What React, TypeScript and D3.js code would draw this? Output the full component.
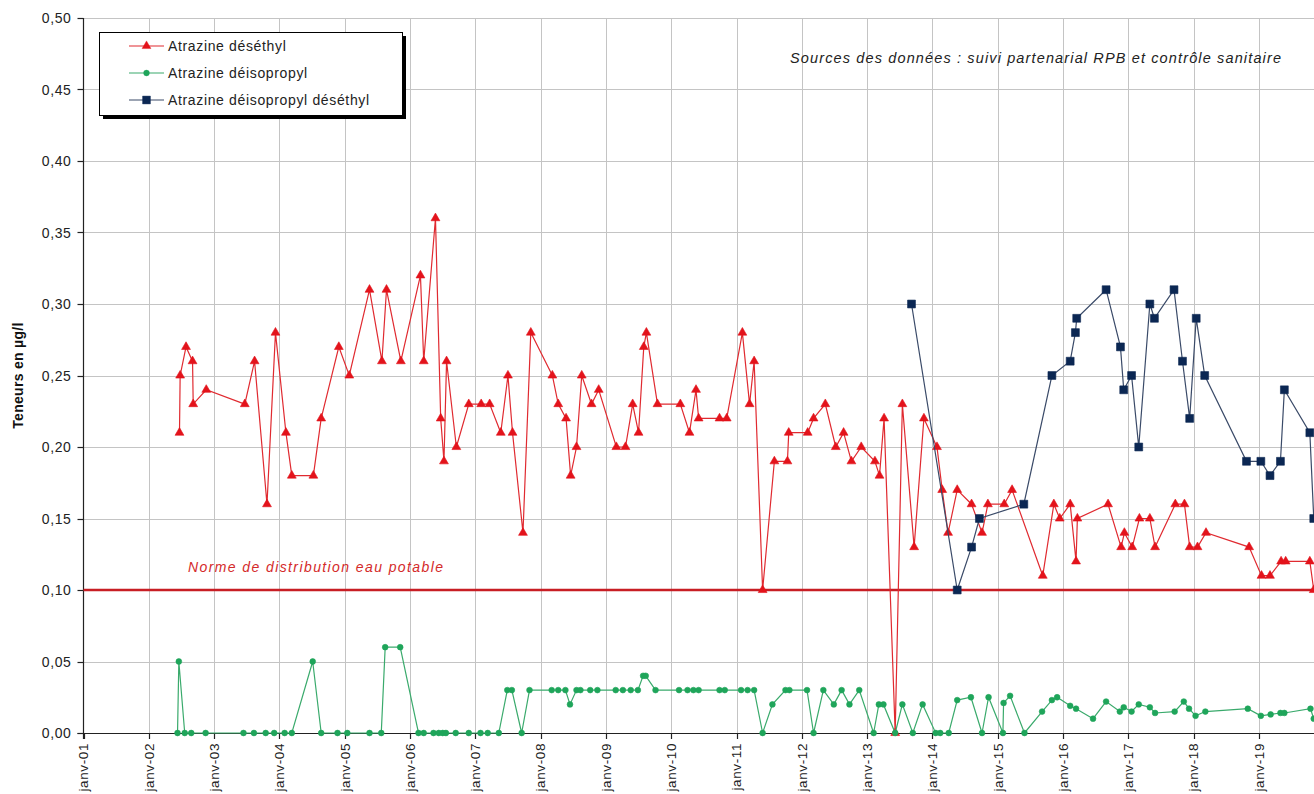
import React from "react";
import * as d3 from "d3";

// Sampling dates (decimal years) and concentrations (µg/l)
const deethyl: [number, number][] = [
  [2002.47, 0.21], [2002.48, 0.25], [2002.57, 0.27], [2002.67, 0.26], [2002.68, 0.23],
  [2002.88, 0.24], [2003.47, 0.23], [2003.62, 0.26], [2003.81, 0.16], [2003.94, 0.28],
  [2004.10, 0.21], [2004.19, 0.18], [2004.52, 0.18], [2004.64, 0.22], [2004.91, 0.27],
  [2005.07, 0.25], [2005.38, 0.31], [2005.57, 0.26], [2005.64, 0.31], [2005.86, 0.26],
  [2006.16, 0.32], [2006.21, 0.26], [2006.39, 0.36], [2006.47, 0.22], [2006.52, 0.19],
  [2006.56, 0.26], [2006.71, 0.20], [2006.90, 0.23], [2007.09, 0.23], [2007.22, 0.23],
  [2007.39, 0.21], [2007.50, 0.25], [2007.57, 0.21], [2007.73, 0.14], [2007.85, 0.28],
  [2008.18, 0.25], [2008.27, 0.23], [2008.39, 0.22], [2008.46, 0.18], [2008.55, 0.20],
  [2008.63, 0.25], [2008.78, 0.23], [2008.89, 0.24], [2009.16, 0.20], [2009.30, 0.20],
  [2009.41, 0.23], [2009.50, 0.21], [2009.58, 0.27], [2009.62, 0.28], [2009.79, 0.23],
  [2010.14, 0.23], [2010.28, 0.21], [2010.38, 0.24], [2010.42, 0.22], [2010.74, 0.22],
  [2010.85, 0.22], [2011.09, 0.28], [2011.20, 0.23], [2011.27, 0.26], [2011.40, 0.10],
  [2011.58, 0.19], [2011.78, 0.19], [2011.80, 0.21], [2012.09, 0.21], [2012.18, 0.22],
  [2012.36, 0.23], [2012.52, 0.20], [2012.64, 0.21], [2012.76, 0.19], [2012.91, 0.20],
  [2013.12, 0.19], [2013.19, 0.18], [2013.26, 0.22], [2013.43, 0.00], [2013.54, 0.23],
  [2013.72, 0.13], [2013.87, 0.22], [2014.07, 0.20], [2014.15, 0.17], [2014.24, 0.14],
  [2014.38, 0.17], [2014.60, 0.16], [2014.76, 0.14], [2014.85, 0.16], [2015.10, 0.16],
  [2015.22, 0.17], [2015.69, 0.11], [2015.86, 0.16], [2015.95, 0.15], [2016.11, 0.16],
  [2016.20, 0.12], [2016.22, 0.15], [2016.69, 0.16], [2016.89, 0.13], [2016.94, 0.14],
  [2017.06, 0.13], [2017.17, 0.15], [2017.33, 0.15], [2017.41, 0.13], [2017.72, 0.16],
  [2017.86, 0.16], [2017.94, 0.13], [2018.06, 0.13], [2018.19, 0.14], [2018.85, 0.13],
  [2019.04, 0.11], [2019.17, 0.11], [2019.34, 0.12], [2019.41, 0.12], [2019.78, 0.12],
  [2019.84, 0.10],
];

const deisopropyl: [number, number][] = [
  [2002.44, 0], [2002.46, 0.05], [2002.55, 0], [2002.65, 0], [2002.87, 0],
  [2003.45, 0], [2003.61, 0], [2003.79, 0], [2003.92, 0], [2004.08, 0],
  [2004.19, 0], [2004.51, 0.05], [2004.64, 0], [2004.89, 0], [2005.04, 0],
  [2005.38, 0], [2005.56, 0], [2005.62, 0.06], [2005.85, 0.06], [2006.13, 0],
  [2006.21, 0], [2006.36, 0], [2006.44, 0], [2006.50, 0], [2006.55, 0],
  [2006.70, 0], [2006.90, 0], [2007.08, 0], [2007.19, 0], [2007.36, 0],
  [2007.49, 0.03], [2007.56, 0.03], [2007.71, 0], [2007.83, 0.03], [2008.17, 0.03],
  [2008.27, 0.03], [2008.38, 0.03], [2008.45, 0.02], [2008.55, 0.03], [2008.61, 0.03],
  [2008.76, 0.03], [2008.87, 0.03], [2009.15, 0.03], [2009.26, 0.03], [2009.38, 0.03],
  [2009.49, 0.03], [2009.57, 0.04], [2009.61, 0.04], [2009.76, 0.03], [2010.12, 0.03],
  [2010.25, 0.03], [2010.34, 0.03], [2010.42, 0.03], [2010.74, 0.03], [2010.82, 0.03],
  [2011.07, 0.03], [2011.17, 0.03], [2011.27, 0.03], [2011.40, 0], [2011.55, 0.02],
  [2011.75, 0.03], [2011.81, 0.03], [2012.08, 0.03], [2012.18, 0], [2012.33, 0.03],
  [2012.49, 0.02], [2012.61, 0.03], [2012.73, 0.02], [2012.88, 0.03], [2013.10, 0],
  [2013.18, 0.02], [2013.25, 0.02], [2013.43, 0], [2013.54, 0.02], [2013.70, 0],
  [2013.85, 0.02], [2014.05, 0], [2014.12, 0], [2014.25, 0], [2014.38, 0.023],
  [2014.59, 0.025], [2014.76, 0], [2014.86, 0.025], [2015.08, 0], [2015.09, 0.021],
  [2015.19, 0.026], [2015.41, 0], [2015.68, 0.015], [2015.83, 0.023], [2015.91, 0.025],
  [2016.11, 0.019], [2016.20, 0.017], [2016.46, 0.010], [2016.66, 0.022], [2016.87, 0.015],
  [2016.93, 0.018], [2017.05, 0.015], [2017.16, 0.020], [2017.33, 0.018], [2017.41, 0.014],
  [2017.71, 0.015], [2017.85, 0.022], [2017.93, 0.017], [2018.03, 0.012], [2018.18, 0.015],
  [2018.83, 0.017], [2019.03, 0.012], [2019.18, 0.013], [2019.33, 0.014], [2019.39, 0.014],
  [2019.79, 0.017], [2019.84, 0.010],
];

const deisopropylDeethyl: [number, number][] = [
  [2013.68, 0.30], [2014.38, 0.10], [2014.60, 0.13], [2014.72, 0.15], [2015.40, 0.16],
  [2015.83, 0.25], [2016.11, 0.26], [2016.19, 0.28], [2016.21, 0.29], [2016.66, 0.31],
  [2016.88, 0.27], [2016.93, 0.24], [2017.05, 0.25], [2017.16, 0.20], [2017.33, 0.30],
  [2017.40, 0.29], [2017.70, 0.31], [2017.83, 0.26], [2017.94, 0.22], [2018.04, 0.29],
  [2018.17, 0.25], [2018.81, 0.19], [2019.03, 0.19], [2019.17, 0.18], [2019.33, 0.19],
  [2019.39, 0.24], [2019.78, 0.21], [2019.84, 0.15],
];

// January tick years shown along the time axis
const yearTicks = d3.range(2001, 2020);
const yTicks = d3.range(0, 0.5001, 0.05);
const normValue = 0.1;

const seriesNames = [
  "Atrazine déséthyl",
  "Atrazine déisopropyl",
  "Atrazine déisopropyl déséthyl",
];
const sourceNote = "Sources des données : suivi partenarial  RPB et contrôle sanitaire";
const normLabel = "Norme de distribution eau potable";
const yTitle = "Teneurs en µg/l";

const W = 1314;
const H = 794;
const left = 83.5;
const top = 18;
const bottom = 733;

const x = d3.scaleLinear().domain([2001, 2020]).range([left, left + 19 * 65.3]);
const y = d3.scaleLinear().domain([0, 0.5]).range([bottom, top]);

const fmtY = (v: number) => d3.format(".2f")(v).replace(".", ",");
const fmtX = (yr: number) => "janv-" + String(yr % 100).padStart(2, "0");

const line = d3
  .line<[number, number]>()
  .x((d) => x(d[0]))
  .y((d) => y(d[1]));

const triangle = d3.symbol(d3.symbolTriangle, 34)()!;
const circle = d3.symbol(d3.symbolCircle, 26)()!;
const square = d3.symbol(d3.symbolSquare, 62)()!;

const RED = "#e3131b";
const RED_LINE = "#e02a30";
const GREEN = "#1fa55a";
const GREEN_LINE = "#3aaa6c";
const NAVY = "#0b2753";
const NAVY_LINE = "#3a4a68";

const font = "'Liberation Sans', Arial, sans-serif";

const series = [
  { name: seriesNames[0], data: deethyl, stroke: RED_LINE, fill: RED, marker: triangle },
  { name: seriesNames[1], data: deisopropyl, stroke: GREEN_LINE, fill: GREEN, marker: circle },
  { name: seriesNames[2], data: deisopropylDeethyl, stroke: NAVY_LINE, fill: NAVY, marker: square },
];

export default function App() {
  const plotRight = x(2020);
  return (
    <svg
      width={W}
      height={H}
      style={{ position: "absolute", left: 0, top: 0, background: "#fff" }}
      fontFamily={font}
    >
      <rect width={W} height={H} fill="#fff" />

      {/* grid */}
      <g stroke="#c4c4c4" strokeWidth={1}>
        {yTicks.map((t) => (
          <line key={"h" + t} x1={left} x2={plotRight} y1={Math.round(y(t)) + 0.5} y2={Math.round(y(t)) + 0.5} />
        ))}
        {yearTicks.slice(1).map((t) => (
          <line key={"v" + t} x1={Math.round(x(t)) + 0.5} x2={Math.round(x(t)) + 0.5} y1={top} y2={bottom} />
        ))}
      </g>

      {/* axes */}
      <g stroke="#222" strokeWidth={1.2}>
        <line x1={left} x2={left} y1={top} y2={bottom + 6} />
        <line x1={left - 6} x2={plotRight} y1={bottom + 0.5} y2={bottom + 0.5} />
        {yTicks.map((t) => (
          <line key={"yt" + t} x1={left - 6} x2={left} y1={Math.round(y(t)) + 0.5} y2={Math.round(y(t)) + 0.5} />
        ))}
        {yearTicks.map((t) => (
          <line key={"xt" + t} x1={Math.round(x(t)) + 0.5} x2={Math.round(x(t)) + 0.5} y1={bottom} y2={bottom + 6} />
        ))}
      </g>

      {/* y tick labels */}
      <g fontSize={14} fill="#222" textAnchor="end" letterSpacing={0.6}>
        {yTicks.map((t) => (
          <text key={"yl" + t} x={left - 12} y={y(t)} dy="0.36em">
            {fmtY(t)}
          </text>
        ))}
      </g>

      {/* x tick labels */}
      <g fontSize={13.5} fill="#222" textAnchor="end" letterSpacing={0.6}>
        {yearTicks.map((t) => (
          <text
            key={"xl" + t}
            transform={`translate(${x(t)},${bottom + 10}) rotate(-90)`}
            dy="0.36em"
          >
            {fmtX(t)}
          </text>
        ))}
      </g>

      {/* y axis title */}
      <text
        transform={`translate(18,${y(0.25)}) rotate(-90)`}
        textAnchor="middle"
        dy="0.36em"
        fontSize={14}
        fontWeight="bold"
        fill="#111"
        letterSpacing={0.3}
      >
        {yTitle}
      </text>

      {/* drinking water standard */}
      <line x1={left} x2={plotRight} y1={y(normValue)} y2={y(normValue)} stroke="#c81e24" strokeWidth={2.6} />
      <text
        x={188}
        y={y(normValue) - 18}
        fontSize={14}
        fontStyle="italic"
        fill="#d42a2a"
        textLength={255}
        lengthAdjust="spacing"
      >
        {normLabel}
      </text>

      {/* series */}
      {series.map((s) => (
        <g key={s.name}>
          <path d={line(s.data)!} fill="none" stroke={s.stroke} strokeWidth={1.2} />
          {s.data.map((d, i) => (
            <path
              key={i}
              d={s.marker}
              transform={`translate(${x(d[0])},${y(d[1])})`}
              fill={s.fill}
              stroke={s.fill}
              strokeWidth={0.6}
            />
          ))}
        </g>
      ))}

      {/* source note */}
      <text
        x={790}
        y={63}
        fontSize={14.5}
        fontStyle="italic"
        fill="#222"
        textLength={491}
        lengthAdjust="spacing"
      >
        {sourceNote}
      </text>

      {/* legend */}
      <g>
        <rect x={103} y={36} width={303} height={83} fill="#000" />
        <rect x={99.5} y={32.5} width={303} height={83} fill="#fff" stroke="#000" strokeWidth={1} />
        {series.map((s, i) => {
          const ly = 46 + i * 27;
          return (
            <g key={"lg" + s.name}>
              <line x1={129} x2={164} y1={ly} y2={ly} stroke={s.stroke} strokeWidth={1.2} />
              <path d={s.marker} transform={`translate(146.5,${ly})`} fill={s.fill} stroke={s.fill} strokeWidth={0.4} />
              <text x={168} y={ly} dy="0.36em" fontSize={14} fill="#222" letterSpacing={0.65}>
                {s.name}
              </text>
            </g>
          );
        })}
      </g>
    </svg>
  );
}
